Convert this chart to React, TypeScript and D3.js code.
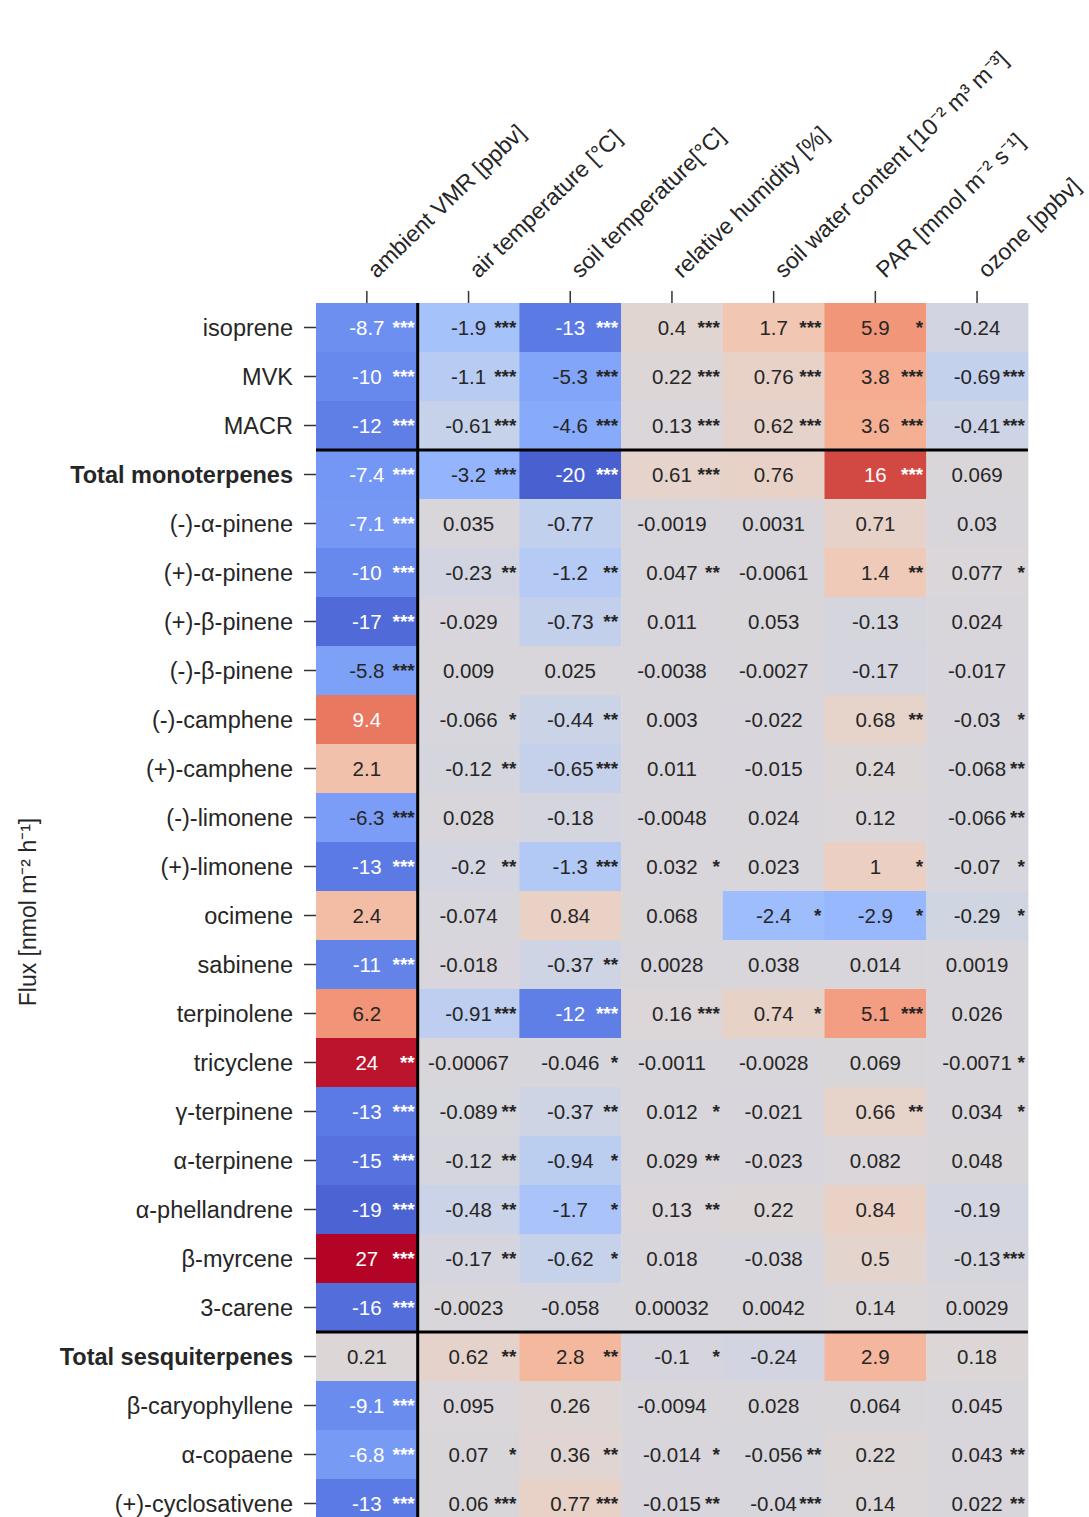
import React from 'react';
import * as d3 from 'd3';

const columns = [
  'ambient VMR [ppbv]',
  'air temperature [°C]',
  'soil temperature[°C]',
  'relative humidity [%]',
  'soil water content [10⁻² m³ m⁻³]',
  'PAR [mmol m⁻² s⁻¹]',
  'ozone [ppbv]',
];

const rows = [
  'isoprene', 'MVK', 'MACR', 'Total monoterpenes', '(-)-α-pinene', '(+)-α-pinene',
  '(+)-β-pinene', '(-)-β-pinene', '(-)-camphene', '(+)-camphene', '(-)-limonene',
  '(+)-limonene', 'ocimene', 'sabinene', 'terpinolene', 'tricyclene', 'γ-terpinene',
  'α-terpinene', 'α-phellandrene', 'β-myrcene', '3-carene', 'Total sesquiterpenes',
  'β-caryophyllene', 'α-copaene', '(+)-cyclosativene',
];

const boldRows = ['Total monoterpenes', 'Total sesquiterpenes'];

const values: number[][] = [
  [-8.7, -1.9, -13, 0.4, 1.7, 5.9, -0.24],
  [-10, -1.1, -5.3, 0.22, 0.76, 3.8, -0.69],
  [-12, -0.61, -4.6, 0.13, 0.62, 3.6, -0.41],
  [-7.4, -3.2, -20, 0.61, 0.76, 16, 0.069],
  [-7.1, 0.035, -0.77, -0.0019, 0.0031, 0.71, 0.03],
  [-10, -0.23, -1.2, 0.047, -0.0061, 1.4, 0.077],
  [-17, -0.029, -0.73, 0.011, 0.053, -0.13, 0.024],
  [-5.8, 0.009, 0.025, -0.0038, -0.0027, -0.17, -0.017],
  [9.4, -0.066, -0.44, 0.003, -0.022, 0.68, -0.03],
  [2.1, -0.12, -0.65, 0.011, -0.015, 0.24, -0.068],
  [-6.3, 0.028, -0.18, -0.0048, 0.024, 0.12, -0.066],
  [-13, -0.2, -1.3, 0.032, 0.023, 1, -0.07],
  [2.4, -0.074, 0.84, 0.068, -2.4, -2.9, -0.29],
  [-11, -0.018, -0.37, 0.0028, 0.038, 0.014, 0.0019],
  [6.2, -0.91, -12, 0.16, 0.74, 5.1, 0.026],
  [24, -0.00067, -0.046, -0.0011, -0.0028, 0.069, -0.0071],
  [-13, -0.089, -0.37, 0.012, -0.021, 0.66, 0.034],
  [-15, -0.12, -0.94, 0.029, -0.023, 0.082, 0.048],
  [-19, -0.48, -1.7, 0.13, 0.22, 0.84, -0.19],
  [27, -0.17, -0.62, 0.018, -0.038, 0.5, -0.13],
  [-16, -0.0023, -0.058, 0.00032, 0.0042, 0.14, 0.0029],
  [0.21, 0.62, 2.8, -0.1, -0.24, 2.9, 0.18],
  [-9.1, 0.095, 0.26, -0.0094, 0.028, 0.064, 0.045],
  [-6.8, 0.07, 0.36, -0.014, -0.056, 0.22, 0.043],
  [-13, 0.06, 0.77, -0.015, -0.04, 0.14, 0.022],
];

const stars: string[][] = [
  ['***', '***', '***', '***', '***', '*', ''],
  ['***', '***', '***', '***', '***', '***', '***'],
  ['***', '***', '***', '***', '***', '***', '***'],
  ['***', '***', '***', '***', '', '***', ''],
  ['***', '', '', '', '', '', ''],
  ['***', '**', '**', '**', '', '**', '*'],
  ['***', '', '**', '', '', '', ''],
  ['***', '', '', '', '', '', ''],
  ['', '*', '**', '', '', '**', '*'],
  ['', '**', '***', '', '', '', '**'],
  ['***', '', '', '', '', '', '**'],
  ['***', '**', '***', '*', '', '*', '*'],
  ['', '', '', '', '*', '*', '*'],
  ['***', '', '**', '', '', '', ''],
  ['', '***', '***', '***', '*', '***', ''],
  ['**', '', '*', '', '', '', '*'],
  ['***', '**', '**', '*', '', '**', '*'],
  ['***', '**', '*', '**', '', '', ''],
  ['***', '**', '*', '**', '', '', ''],
  ['***', '**', '*', '', '', '', '***'],
  ['***', '', '', '', '', '', ''],
  ['', '**', '**', '*', '', '', ''],
  ['***', '', '', '', '', '', ''],
  ['***', '*', '**', '*', '**', '', '**'],
  ['***', '***', '***', '**', '***', '', '**'],
];

const coolwarm = d3.interpolateRgbBasis([
  '#3b4cc0', '#5572df', '#6f92f3', '#8db0fe', '#aac7fd', '#dddcdc',
  '#f2cbb7', '#f7ac8e', '#ee8468', '#d65244', '#b40426',
]);

const left = 316, top = 303, cw = 101.7, ch = 49;
const x = d3.scaleBand<number>().domain(d3.range(columns.length)).range([left, left + cw * columns.length]);
const y = d3.scaleBand<number>().domain(d3.range(rows.length)).range([top, top + ch * rows.length]);
const norm = d3.scaleSymlog().constant(1).domain([-27, 27]).range([0, 1]).clamp(true);
// soften the mid range a bit so medium values read lighter
const tone = (v: number) => 0.5 + Math.sign(v) * Math.pow(Math.abs(norm(v) - 0.5) * 2, 1.25) / 2;

const font = 'Liberation Sans, Arial, sans-serif';

export default function App() {
  const right = left + cw * columns.length;
  return (
    <svg width={1089} height={1517} style={{ position: 'absolute', left: 0, top: 0 }} fontFamily={font}>
      <rect width={1089} height={1517} fill="#fff" />
      {values.map((row, i) =>
        row.map((v, j) => {
          const white = Math.abs(v) >= 6.5;
          const cx = x(j)! + cw / 2, cy = y(i)! + ch / 2;
          return (
            <g key={`${i}-${j}`}>
              <rect x={x(j)} y={y(i)} width={cw + 0.5} height={ch + 0.5} fill={coolwarm(tone(v))} />
              <text x={cx} y={cy} dy="0.36em" textAnchor="middle" fontSize={20.5} fill={white ? '#fff' : '#262626'}>{String(v)}</text>
              {stars[i][j] && (
                <text x={x(j)! + cw - 3} y={cy} dy="0.32em" textAnchor="end" fontSize={19} fontWeight="bold" fill={white ? '#fff' : '#262626'}>{stars[i][j]}</text>
              )}
            </g>
          );
        })
      )}
      <line x1={x(1)} x2={x(1)} y1={top} y2={1517} stroke="#000" strokeWidth={3} />
      <line x1={left} x2={right} y1={y(3)} y2={y(3)} stroke="#000" strokeWidth={3} />
      <line x1={left} x2={right} y1={y(21)} y2={y(21)} stroke="#000" strokeWidth={3} />
      {rows.map((r, i) => (
        <g key={r}>
          <line x1={left - 12} x2={left} y1={y(i)! + ch / 2} y2={y(i)! + ch / 2} stroke="#333" strokeWidth={1.5} />
          <text x={left - 23} y={y(i)! + ch / 2} dy="0.36em" textAnchor="end" fontSize={23.5}
            fontWeight={boldRows.includes(r) ? 'bold' : 'normal'} fill="#262626">{r}</text>
        </g>
      ))}
      {columns.map((c, j) => {
        const cx = x(j)! + cw / 2;
        return (
          <g key={c}>
            <line x1={cx} x2={cx} y1={top - 12} y2={top} stroke="#333" strokeWidth={1.5} />
            <text transform={`translate(${cx + 10},${top - 24}) rotate(-44)`} fontSize={23} fill="#262626">{c}</text>
          </g>
        );
      })}
      <text transform={`translate(36,912) rotate(-90)`} textAnchor="middle" fontSize={23} fill="#262626">
        Flux [nmol m⁻² h⁻¹]
      </text>
    </svg>
  );
}
